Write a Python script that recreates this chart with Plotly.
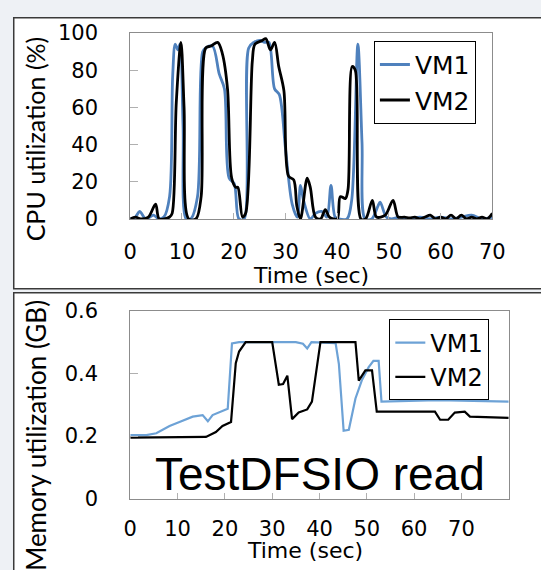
import plotly.graph_objects as go

W, H = 541, 570

# ---------------- data: CPU utilization (%) ----------------
cpu_vm1_t = [0, 1, 1.8, 3, 4.5, 5.5, 6.5, 7.6, 8.2, 8.7, 9.2, 9.6, 10.2, 10.8, 11.7,
             13.0, 14.0, 14.6, 15.9, 17.2, 18.2, 19.1, 20.1, 21.0, 22.0, 22.9, 23.9,
             25.0, 26.0, 26.8, 27.9, 28.8, 30.0, 31.3, 32.3, 32.9, 33.5, 34.8, 35.8,
             37.0, 38.0, 38.8, 39.6, 40.3, 41.9, 42.8, 44.0, 44.8, 45.4, 46.7, 47.9,
             48.3, 49.5, 50.5, 52, 54, 56, 58, 60, 62, 64, 66, 68, 70]
cpu_vm1 = [0, 1, 4, 0, 2, 0, 1, 12, 77, 94, 91, 94, 50, 0, 0,
           12, 90, 92, 93, 78, 70, 22, 19, 0, 0, 92, 95,
           96, 95, 95, 70, 67, 38, 8, 1, 18, 10, 0, 3,
           4, 1, 18, 1, 0, 0, 10, 94, 41, 0, 0, 7,
           9, 1, 0, 1, 0, 1, 0, 1, 0, 1, 2, 0, 1]

cpu_vm2_t = [0, 1, 2, 3.5, 4.9, 5.6, 7.6, 8.1, 8.9, 9.8, 10.4, 11.3, 12.7, 13.7, 14.6,
             15.6, 16.9, 17.8, 18.8, 19.6, 20.4, 20.8, 21.7, 22.3, 23.6, 24.1, 25.5,
             26.2, 27.1, 27.9, 28.7, 29.7, 30.6, 31.6, 32.2, 32.9, 34.2, 34.8, 35.8,
             36.8, 37.7, 38.5, 40.0, 40.6, 41.6, 42.1, 42.9, 43.5, 44.6, 45.5, 46.8,
             47.6, 49.3, 50.8, 51.8, 53, 54, 55, 56, 57, 58, 59, 60, 61, 62, 63, 64,
             65, 66, 67, 68, 69, 70]
cpu_vm2 = [0, 1, 0, 1, 8, 0, 1, 3, 63, 95, 60, 0, 0, 12, 92,
           93, 95, 89, 70, 22, 17, 17, 1, 3, 85, 94, 96,
           97, 91, 95, 82, 69, 23, 21, 7, 0, 22, 17, 1,
           0, 5, 1, 0, 12, 11, 16, 82, 80, 0, 0, 10,
           1, 2, 10, 1, 1, 0.5, 1, 0, 1, 2, 0, 1, 0, 2, 0, 2,
           0, 1, 0, 1, 0, 3]

# ---------------- data: Memory utilization (GB) ----------------
mem_vm1_t = [0, 3.4, 5.5, 8.3, 10.4, 13.2, 15.3, 16.4, 17.4, 20.6, 21.5, 23, 30, 35,
             36.5, 37.4, 38.3, 43.4, 44.1, 45.1, 46.2, 47.6, 49, 50.4, 51.4, 52.5,
             53.1, 65, 80]
mem_vm1 = [0.203, 0.203, 0.209, 0.232, 0.245, 0.262, 0.267, 0.247, 0.267, 0.287, 0.496,
           0.5, 0.5, 0.5, 0.495, 0.48, 0.5, 0.497, 0.43, 0.217, 0.22, 0.32, 0.38, 0.42,
           0.44, 0.44, 0.31, 0.315, 0.31]

mem_vm2_t = [0, 16, 18.1, 19.5, 21.3, 22.3, 23, 24.4, 30, 31.4, 32.3, 33.2, 34.2, 35.6,
             37.4, 38.4, 40.2, 47.6, 48.3, 49.7, 51.1, 52.1, 64.4, 65.5, 67.2, 68.6,
             70.7, 71.8, 80]
mem_vm2 = [0.195, 0.197, 0.213, 0.232, 0.245, 0.433, 0.47, 0.5, 0.5, 0.364, 0.366, 0.393,
           0.254, 0.275, 0.285, 0.31, 0.5, 0.5, 0.377, 0.41, 0.41, 0.278, 0.278, 0.252,
           0.252, 0.275, 0.278, 0.262, 0.258]

cpu_ticks = [0, 10, 20, 30, 40, 50, 60, 70]
cpu_yticks = [0, 20, 40, 60, 80, 100]
mem_ticks = [0, 10, 20, 30, 40, 50, 60, 70]
mem_yticks = [0, 0.2, 0.4, 0.6]
mem_yticklabels = ["0", "0.2", "0.4", "0.6"]

BLUE_TOP = "#4f81bd"
BLUE_BOT = "#6da2d6"
TICKFONT = dict(family="DejaVu Sans", size=21, color="#000000")
AXCOL = "#8c8c8c"


def px(x):
    return x / W


def py(y):
    return 1 - y / H


fig = go.Figure()

fig.add_trace(go.Scatter(x=cpu_vm1_t, y=cpu_vm1, mode="lines", name="VM1",
                         line=dict(color=BLUE_TOP, width=2.8, shape="spline", smoothing=0.9),
                         xaxis="x", yaxis="y", legend="legend", legendgroup="a"))
fig.add_trace(go.Scatter(x=cpu_vm2_t, y=cpu_vm2, mode="lines", name="VM2",
                         line=dict(color="#000000", width=2.8, shape="spline", smoothing=0.9),
                         xaxis="x", yaxis="y", legend="legend", legendgroup="b"))
fig.add_trace(go.Scatter(x=mem_vm1_t, y=mem_vm1, mode="lines", name="VM1",
                         line=dict(color=BLUE_BOT, width=2.2),
                         xaxis="x2", yaxis="y2", legend="legend2", legendgroup="c"))
fig.add_trace(go.Scatter(x=mem_vm2_t, y=mem_vm2, mode="lines", name="VM2",
                         line=dict(color="#000000", width=2.2),
                         xaxis="x2", yaxis="y2", legend="legend2", legendgroup="d"))

axis_common = dict(showgrid=False, zeroline=False, showline=True, mirror=True,
                   linecolor=AXCOL, linewidth=1, ticks="inside", tickcolor="#b0b0b0",
                   tickfont=TICKFONT)

fig.update_layout(
    width=W, height=H, autosize=False,
    margin=dict(l=0, r=0, t=0, b=0),
    paper_bgcolor="#eef1f5", plot_bgcolor="#ffffff",
    xaxis=dict(domain=[px(128), px(504)], range=[0, 70], tickvals=cpu_ticks,
               ticklen=6, ticklabelstandoff=14, anchor="y", **axis_common),
    yaxis=dict(domain=[py(216), py(22)], range=[0, 100], tickvals=cpu_yticks,
               ticklen=8, ticklabelstandoff=27, anchor="x", **axis_common),
    xaxis2=dict(domain=[px(128), px(521)], range=[0, 80], tickvals=mem_ticks,
                ticklen=6, ticklabelstandoff=11, anchor="y2", **axis_common),
    yaxis2=dict(domain=[py(508), py(312)], range=[0, 0.6], tickvals=mem_yticks,
                ticktext=mem_yticklabels, ticklen=8, ticklabelstandoff=27, anchor="x2",
                **axis_common),
    showlegend=True,
    legend=dict(x=px(381), y=py(30), xanchor="left", yanchor="top",
                bgcolor="#ffffff", bordercolor="#000000", borderwidth=1,
                font=dict(family="DejaVu Sans", size=25, color="#000000"),
                traceorder="grouped", tracegroupgap=0, itemwidth=30),
    legend2=dict(x=px(397), y=py(321), xanchor="left", yanchor="top",
                 bgcolor="#ffffff", bordercolor="#000000", borderwidth=1,
                 font=dict(family="DejaVu Sans", size=24, color="#000000"),
                 traceorder="grouped", tracegroupgap=0, itemwidth=30),
)

# panels (slide frames)
fig.add_shape(type="rect", xref="paper", yref="paper", x0=px(7), x1=px(560),
              y0=py(289), y1=py(6), fillcolor="#ffffff",
              line=dict(color="#3a3a3a", width=1.5), layer="below")
fig.add_shape(type="rect", xref="paper", yref="paper", x0=px(7), x1=px(560),
              y0=py(590), y1=py(293), fillcolor="#ffffff",
              line=dict(color="#3a3a3a", width=1.5), layer="below")

TITLEFONT = dict(family="DejaVu Sans", size=22, color="#000000")
fig.add_annotation(text="Time (sec)", xref="paper", yref="paper", x=px(316), y=py(275),
                   xanchor="center", yanchor="middle", showarrow=False, font=TITLEFONT)
fig.add_annotation(text="Time (sec)", xref="paper", yref="paper", x=px(309), y=py(562),
                   xanchor="center", yanchor="middle", showarrow=False, font=TITLEFONT)
fig.add_annotation(text="CPU utilization (%)", xref="paper", yref="paper", x=px(30), y=py(132),
                   xanchor="center", yanchor="middle", textangle=-90, showarrow=False,
                   font=dict(family="Lato", size=25, color="#000000"))
fig.add_annotation(text="Memory utilization (GB)", xref="paper", yref="paper", x=px(30),
                   y=py(298), xanchor="center", yanchor="top", textangle=-90, showarrow=False,
                   font=dict(family="Lato", size=26, color="#000000"))
fig.add_annotation(text="TestDFSIO read", xref="paper", yref="paper", x=px(325), y=py(482),
                   xanchor="center", yanchor="middle", showarrow=False,
                   font=dict(family="Liberation Sans", size=46, color="#000000"))

fig.write_html("out.html", post_script="document.body.style.margin='0px';",
               config={"displayModeBar": False})
